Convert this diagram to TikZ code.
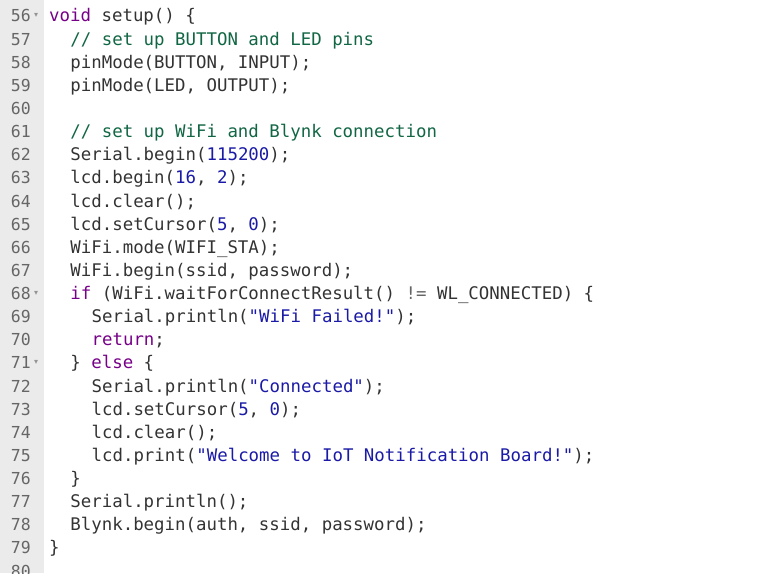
\documentclass[tikz,border=0pt]{standalone}
\usepackage{fontspec}
\setmonofont{DejaVu Sans Mono}
\newfontfamily\symf{DejaVu Sans}
\definecolor{kwc}{HTML}{770088}
\definecolor{stc}{HTML}{1A1AA6}
\definecolor{cmc}{HTML}{116644}
\definecolor{txc}{HTML}{333333}
\definecolor{gut}{HTML}{EBEBEB}
\definecolor{lnc}{HTML}{666666}
\newcommand\kw[1]{\textcolor{kwc}{#1}}
\newcommand\st[1]{\textcolor{stc}{#1}}
\newcommand\cm[1]{\textcolor{cmc}{#1}}
\newcommand\op[1]{\textcolor{lnc}{#1}}
\tikzset{codetxt/.style={anchor=base west,inner sep=0pt,font=\ttfamily\fontsize{17.4}{20}\selectfont,text=txc},
lnum/.style={anchor=base east,inner sep=0pt,font=\ttfamily\fontsize{16.5}{20}\selectfont,text=lnc},
fold/.style={anchor=base west,inner sep=0pt,font=\symf\fontsize{8}{10}\selectfont,text=lnc!70}}
\newcommand\cl[3]{%
\node[lnum] (n#1) at (31pt,{573pt-(22pt+23.13pt*(#1-56))}) {#1};
\node[codetxt] (l#1) at ({49pt+10.6pt*#2},{573pt-(22pt+23.13pt*(#1-56))}) {#3};}
\begin{document}
\begin{tikzpicture}[x=1pt,y=1pt]
\useasboundingbox (0,0) rectangle (759,573);
\clip (0,0) rectangle (759,573);
\fill[gut] (0,0) rectangle (44,573);
\cl{56}{0}{\kw{void} setup() \{}
\cl{57}{2}{\cm{// set up BUTTON and LED pins}}
\cl{58}{2}{pinMode(BUTTON, INPUT);}
\cl{59}{2}{pinMode(LED, OUTPUT);}
\cl{60}{0}{}
\cl{61}{2}{\cm{// set up WiFi and Blynk connection}}
\cl{62}{2}{Serial.begin(\st{115200});}
\cl{63}{2}{lcd.begin(\st{16}, \st{2});}
\cl{64}{2}{lcd.clear();}
\cl{65}{2}{lcd.setCursor(\st{5}, \st{0});}
\cl{66}{2}{WiFi.mode(WIFI\_STA);}
\cl{67}{2}{WiFi.begin(ssid, password);}
\cl{68}{2}{\kw{if} (WiFi.waitForConnectResult() \op{!=} WL\_CONNECTED) \{}
\cl{69}{4}{Serial.println(\st{"WiFi Failed!"});}
\cl{70}{4}{\kw{return};}
\cl{71}{2}{\} \kw{else} \{}
\cl{72}{4}{Serial.println(\st{"Connected"});}
\cl{73}{4}{lcd.setCursor(\st{5}, \st{0});}
\cl{74}{4}{lcd.clear();}
\cl{75}{4}{lcd.print(\st{"Welcome to IoT Notification Board!"});}
\cl{76}{2}{\}}
\cl{77}{2}{Serial.println();}
\cl{78}{2}{Blynk.begin(auth, ssid, password);}
\cl{79}{0}{\}}
\cl{80}{0}{}
\node[fold] (f56) at (n56.base east) [xshift=3pt,yshift=4pt] {▾};
\node[fold] (f68) at (n68.base east) [xshift=3pt,yshift=4pt] {▾};
\node[fold] (f71) at (n71.base east) [xshift=3pt,yshift=4pt] {▾};
\end{tikzpicture}
\end{document}
